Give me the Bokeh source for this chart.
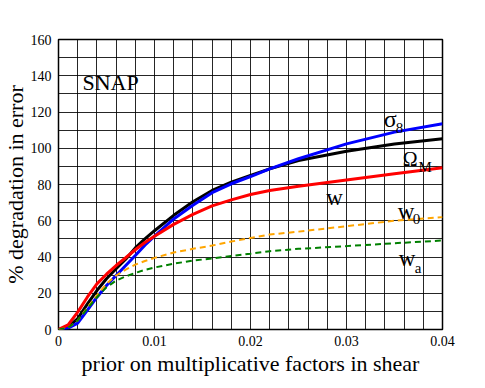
from bokeh.plotting import figure
from bokeh.models import Range1d, SingleIntervalTicker, FixedTicker, Label, Title
from bokeh.embed import file_html
from bokeh.resources import INLINE

x = [0.0, 0.001, 0.002, 0.003, 0.004, 0.005, 0.006, 0.007, 0.008, 0.009, 0.010,
     0.012, 0.014, 0.016, 0.018, 0.020, 0.022, 0.025, 0.030, 0.035, 0.040]
sigma8 = [0.0, 0.8, 3.5, 10.5, 17.8, 24.3, 29.8, 35.3, 40.8, 46.5, 51.5,
          61.0, 68.5, 75.5, 80.4, 84.4, 88.6, 94.2, 102.4, 108.9, 113.5]
omegaM = [0.0, 1.5, 6.0, 14.0, 21.5, 28.0, 33.5, 38.8, 45.0, 50.0, 54.5,
          63.0, 70.5, 76.7, 81.3, 85.0, 88.6, 93.2, 98.3, 102.4, 105.2]
w = [0.0, 2.5, 9.6, 17.8, 25.2, 30.5, 35.3, 39.6, 44.0, 48.0, 51.5,
     58.0, 63.5, 68.2, 71.5, 74.5, 76.7, 79.0, 82.5, 85.9, 89.2]
w0 = [0.0, 1.0, 5.0, 12.0, 18.8, 25.2, 29.8, 33.0, 35.8, 37.8, 39.5,
      42.5, 44.5, 46.3, 48.5, 50.5, 52.4, 54.0, 57.0, 60.0, 62.0]
wa = [0.0, 1.0, 5.0, 11.5, 17.8, 23.3, 27.0, 29.3, 31.2, 32.9, 34.2,
      36.3, 38.0, 39.2, 40.5, 41.8, 43.2, 44.5, 46.0, 47.6, 49.1]

x_ticks = [0, 0.01, 0.02, 0.03, 0.04]
x_tick_labels = {0: "0", 0.01: "0.01", 0.02: "0.02", 0.03: "0.03", 0.04: "0.04"}
y_ticks = [0, 20, 40, 60, 80, 100, 120, 140, 160]

SERIF = "Liberation Serif"

p = figure(width=477, height=380, output_backend="svg", toolbar_location=None,
           x_range=Range1d(0, 0.04), y_range=Range1d(0, 160),
           min_border_left=56, min_border_right=35, min_border_top=39, min_border_bottom=51)
p.outline_line_color = "black"
p.outline_line_width = 1.5

p.xgrid.ticker = SingleIntervalTicker(interval=0.002)
p.ygrid.ticker = SingleIntervalTicker(interval=10)
for g in (p.xgrid, p.ygrid):
    g.grid_line_color = "black"
    g.grid_line_alpha = 0.85
    g.grid_line_width = 1

p.xaxis.ticker = FixedTicker(ticks=x_ticks)
p.xaxis.major_label_overrides = {k: v for k, v in x_tick_labels.items()}
p.yaxis.ticker = FixedTicker(ticks=y_ticks)
for ax in (p.xaxis, p.yaxis):
    ax.axis_line_color = None
    ax.major_tick_line_color = None
    ax.minor_tick_line_color = None
    ax.major_tick_out = 0
    ax.major_tick_in = 0
    ax.minor_tick_out = 0
    ax.minor_tick_in = 0
    ax.major_label_text_font = SERIF
    ax.major_label_text_font_size = "14px"
    ax.major_label_text_color = "black"
p.xaxis.major_label_standoff = 6
p.yaxis.major_label_standoff = 7

# axis titles as side panels
p.add_layout(Title(text="prior on multiplicative factors in shear", align="center",
                   text_font=SERIF, text_font_size="22px", text_font_style="normal",
                   text_color="black", standoff=0), "below")
p.add_layout(Title(text="% degradation in error", align="center",
                   text_font=SERIF, text_font_size="22px", text_font_style="normal",
                   text_color="black", standoff=0), "left")

p.line(x, omegaM, line_color="black", line_width=3)
p.line(x, sigma8, line_color="blue", line_width=3)
p.line(x, w, line_color="red", line_width=3)
p.line(x, w0, line_color="orange", line_width=2, line_dash="6 4")
p.line(x, wa, line_color="green", line_width=2, line_dash="6 4")

def lab(xv, yv, t, size):
    p.add_layout(Label(x=xv, y=yv, text=t, text_font=SERIF, text_font_size=size,
                       text_color="black", text_align="left", text_baseline="alphabetic"))

lab(0.00249, 136.3, "SNAP", "22px")
lab(0.03389, 116.4, "σ", "24px")
lab(0.03513, 110.9, "8", "15px")
lab(0.03585, 94.3, "Ω", "20px")
lab(0.03751, 89.4, "M", "15px")
lab(0.02788, 72.8, "w", "23px")
lab(0.03534, 65.1, "w", "23px")
lab(0.03689, 61.2, "0", "15px")
lab(0.03544, 39.2, "w", "23px")
lab(0.03710, 34.2, "a", "15px")

open("out.html", "w").write(file_html(p, INLINE))
